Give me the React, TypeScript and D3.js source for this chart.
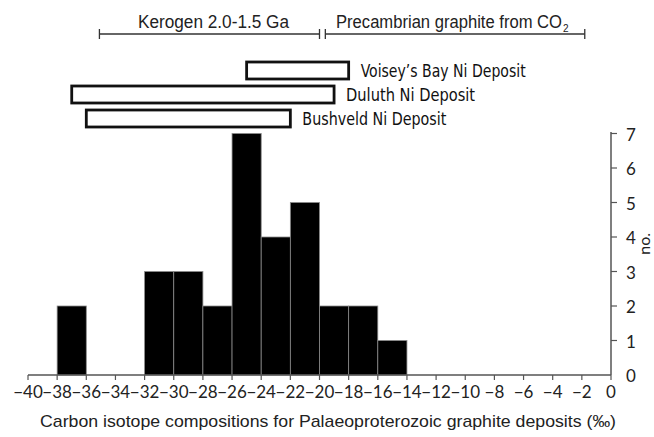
import { useEffect, useRef } from 'react';
import * as d3 from 'd3';

// histogram bins (lower edge, permil) and counts
const binStarts = [-38, -36, -34, -32, -30, -28, -26, -24, -22, -20, -18, -16];
const binCounts = [2, 0, 0, 3, 3, 2, 7, 4, 5, 2, 2, 1];
const binWidth = 2;

const xTickValues = [-40, -38, -36, -34, -32, -30, -28, -26, -24, -22, -20, -18, -16, -14, -12, -10, -8, -6, -4, -2, 0];
const yTickValues = [0, 1, 2, 3, 4, 5, 6, 7];

// Ni deposit ranges drawn as open boxes above the histogram
const depositNames = ["Voisey’s Bay Ni Deposit", 'Duluth Ni Deposit', 'Bushveld Ni Deposit'];
const depositMin = [-25, -37, -36];
const depositMax = [-18, -19, -22];

// range brackets on top
const rangeLabels = ['Kerogen 2.0-1.5 Ga', 'Precambrian graphite from CO'];
const rangeFrom = [-35.1, -19.6];
const rangeTo = [-20, -1.8];

const W = 654;
const H = 437;

function App() {
  const svgRef = useRef<SVGSVGElement | null>(null);

  useEffect(() => {
    if (!svgRef.current) return;
    const svg = d3.select(svgRef.current);
    svg.selectAll('*').remove();

    const x = d3.scaleLinear().domain([-40, 0]).range([28, 611]);
    const y = d3.scaleLinear().domain([0, 7]).range([375, 133.5]);

    const tickFont = 'Lato, "Open Sans", sans-serif';
    const arial = '"Liberation Sans", Arial, sans-serif';
    const narrow = '"DejaVu Sans Condensed", "Liberation Sans", sans-serif';
    const axisColor = '#555';

    // bars
    svg.append('g')
      .selectAll('rect')
      .data(binStarts)
      .join('rect')
      .attr('x', d => x(d))
      .attr('width', d => x(d + binWidth) - x(d))
      .attr('y', (_, i) => y(binCounts[i]))
      .attr('height', (_, i) => y(0) - y(binCounts[i]))
      .attr('fill', '#000')
      .attr('stroke', '#8a8a8a')
      .attr('stroke-width', 0.8)
      .style('display', (_, i) => binCounts[i] > 0 ? null : 'none');

    // x axis
    svg.append('line')
      .attr('x1', x(-40)).attr('x2', x(0))
      .attr('y1', y(0)).attr('y2', y(0))
      .attr('stroke', axisColor).attr('stroke-width', 1.5);
    const xt = svg.append('g');
    xTickValues.forEach(v => {
      xt.append('line')
        .attr('x1', x(v)).attr('x2', x(v))
        .attr('y1', y(0)).attr('y2', y(0) + 5)
        .attr('stroke', axisColor).attr('stroke-width', 1.2);
      xt.append('text')
        .attr('x', x(v))
        .attr('y', 398)
        .attr('text-anchor', 'middle')
        .attr('font-family', tickFont)
        .attr('font-size', 17)
        .attr('fill', '#222')
        .text(v < 0 ? '\u2212' + Math.abs(v) : String(v));
    });

    // y axis on the right
    svg.append('line')
      .attr('x1', x(0)).attr('x2', x(0))
      .attr('y1', y(0)).attr('y2', y(7) - 1.5)
      .attr('stroke', axisColor).attr('stroke-width', 1.5);
    const yt = svg.append('g');
    yTickValues.forEach(v => {
      if (v > 0) {
        yt.append('line')
          .attr('x1', x(0)).attr('x2', x(0) + 6)
          .attr('y1', y(v)).attr('y2', y(v))
          .attr('stroke', axisColor).attr('stroke-width', 1.2);
      }
      yt.append('text')
        .attr('x', 631)
        .attr('y', y(v) + 7)
        .attr('text-anchor', 'middle')
        .attr('font-family', tickFont)
        .attr('font-size', 17)
        .attr('fill', '#222')
        .text(String(v));
    });

    svg.append('text')
      .attr('transform', `translate(650,${y(3.8)}) rotate(-90)`)
      .attr('text-anchor', 'middle')
      .attr('font-family', tickFont)
      .attr('font-size', 16)
      .attr('fill', '#222')
      .text('no.');

    // x axis title
    svg.append('text')
      .attr('x', 40)
      .attr('y', 427)
      .attr('font-family', arial)
      .attr('font-size', 17)
      .attr('textLength', 576)
      .attr('lengthAdjust', 'spacingAndGlyphs')
      .attr('fill', '#222')
      .text('Carbon isotope compositions for Palaeoproterozoic graphite deposits (‰)');

    // deposit boxes
    const boxTop = [62, 86, 110];
    const boxH = 17;
    const labelLen = [165, 129, 144];
    depositNames.forEach((name, i) => {
      svg.append('rect')
        .attr('x', x(depositMin[i]))
        .attr('y', boxTop[i])
        .attr('width', x(depositMax[i]) - x(depositMin[i]))
        .attr('height', boxH)
        .attr('fill', '#fff')
        .attr('stroke', '#111')
        .attr('stroke-width', 2.8);
      svg.append('text')
        .attr('x', x(depositMax[i]) + 12)
        .attr('y', boxTop[i] + boxH / 2 + 6)
        .attr('font-family', narrow)
        .attr('font-size', 17)
        .attr('textLength', labelLen[i])
        .attr('lengthAdjust', 'spacingAndGlyphs')
        .attr('fill', '#111')
        .text(name);
    });

    // range brackets
    const bracketY = 34;
    const rangeLen = [151, 226];
    rangeLabels.forEach((label, i) => {
      const g = svg.append('g');
      const x0 = x(rangeFrom[i]);
      const x1 = x(rangeTo[i]);
      g.append('line').attr('x1', x0).attr('x2', x1).attr('y1', bracketY).attr('y2', bracketY)
        .attr('stroke', '#333').attr('stroke-width', 1.3);
      [x0, x1].forEach(px => {
        g.append('line').attr('x1', px).attr('x2', px).attr('y1', bracketY - 5).attr('y2', bracketY + 5)
          .attr('stroke', '#333').attr('stroke-width', 1.3);
      });
      const t = g.append('text')
        .attr('x', i === 0 ? 138 : 336)
        .attr('y', 28)
        .attr('font-family', arial)
        .attr('font-size', 17.5)
        .attr('fill', '#222');
      t.append('tspan')
        .attr('textLength', rangeLen[i])
        .attr('lengthAdjust', 'spacingAndGlyphs')
        .text(label);
      if (i === 1) {
        t.append('tspan').attr('font-size', 10).attr('dx', 1).attr('dy', 4).text('2');
      }
    });

    return () => {
      svg.selectAll('*').remove();
    };
  }, []);

  return (
    <svg
      ref={svgRef}
      width={W}
      height={H}
      style={{ position: 'absolute', left: 0, top: 0, background: '#fff' }}
    />
  );
}

export default App;
